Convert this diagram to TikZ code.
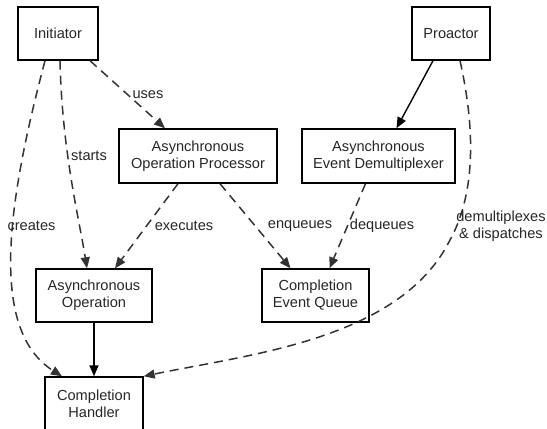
\documentclass[tikz,border=0pt]{standalone}
\usepackage{fontspec}
\setmainfont{Liberation Sans}
\usetikzlibrary{arrows.meta}
\begin{document}
\begin{tikzpicture}[x=1pt,y=-1pt,
  box/.style={draw=black,line width=1.4pt,rectangle,inner sep=0pt,align=center,
    font=\fontsize{14.6}{17}\selectfont,text=black!85},
  lbl/.style={font=\fontsize{14.6}{17}\selectfont,text=black!85,align=center,inner sep=0pt},
  dep/.style={line width=1.5pt,draw=black!80,dash pattern=on 9pt off 6pt,
    -{Triangle[length=11pt,width=9pt]}},
  solidarr/.style={line width=1.4pt,draw=black,-{Triangle[length=11pt,width=9pt]}}]
\useasboundingbox (0,0) rectangle (547,429);
% nodes
\node[box,minimum width=80pt,minimum height=53pt] (init) at (58,33.5) {Initiator};
\node[box,minimum width=78pt,minimum height=53pt] (pro) at (451,33.5) {Proactor};
\node[box,minimum width=158pt,minimum height=54pt] (aop) at (198,156) {Asynchronous\\Operation Processor};
\node[box,minimum width=153pt,minimum height=54pt] (aed) at (378.5,156) {Asynchronous\\Event Demultiplexer};
\node[box,minimum width=116pt,minimum height=53pt] (ao) at (94,295.5) {Asynchronous\\Operation};
\node[box,minimum width=107pt,minimum height=53pt] (ceq) at (315.5,295.5) {Completion\\Event Queue};
\node[box,minimum width=98pt,minimum height=54pt] (ch) at (94,404) {Completion\\Handler};
% connectors
\draw[dep] ([xshift=32pt]init.south) -- (aop.north -| 165,0) ;
\draw[dep] ([xshift=2pt]init.south) .. controls +(2,90) and +(-8,-50) .. ([xshift=-7pt]ao.north);
\draw[dep] ([xshift=-13pt]init.south) .. controls +(-37,140) and +(-74,-47) .. ([xshift=-32pt]ch.north);
\draw[dep] ([xshift=-20pt]aop.south) -- ([xshift=21pt]ao.north);
\draw[dep] ([xshift=22pt]aop.south) -- ([xshift=-25pt]ceq.north);
\draw[dep] ([xshift=-13pt]aed.south) -- ([xshift=14pt]ceq.north);
\draw[solidarr] ([xshift=-18pt]pro.south) -- ([xshift=18pt]aed.north);
\draw[dep] ([xshift=9pt]pro.south) .. controls +(18,80) and +(22,-40) .. (450,240) coordinate (dm)
   .. controls +(-50,100) and +(105,-22) .. (ch.north east);
\draw[solidarr] (ao.south) -- (ch.north);
% labels
\node[lbl] (luses) at (148,95) {uses};
\node[lbl] (lstarts) at (89,156) {starts};
\node[lbl] (lcreates) at (31.5,226) {creates};
\node[lbl] (lexec) at (184,226) {executes};
\node[lbl] (lenq) at (300,226) {enqueues};
\node[lbl] (ldeq) at (382,226) {dequeues};
\node[lbl] (ldem) at (501,226.5) {demultiplexes\\\& dispatches};
\end{tikzpicture}
\end{document}
